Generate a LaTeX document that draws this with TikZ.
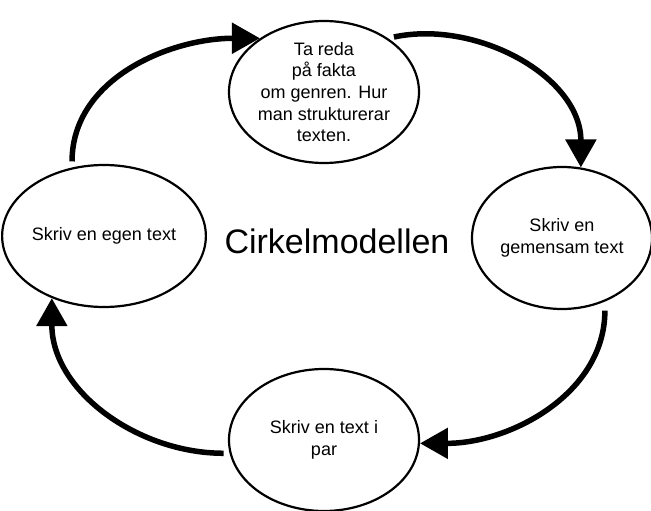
\documentclass[tikz,border=0pt]{standalone}
\usepackage{fontspec}
\setmainfont{Liberation Sans}
\usetikzlibrary{arrows.meta, shapes.geometric}

\begin{document}
\begin{tikzpicture}[x=1pt,y=1pt,->,>={Triangle[length=28pt,width=30pt]},shorten <=6pt,line width=5.5pt,
    steg/.style={ellipse,draw,line width=2.2pt,minimum width=190pt,minimum height=142pt,inner sep=0pt,align=center,font=\fontsize{18}{21.6}\selectfont}]
    \useasboundingbox (0,0) rectangle (651,-511);

    \node[steg] (T) at (324,-92)  {Ta reda\\på fakta\\om genren. Hur\\man strukturerar\\texten.};
    \node[steg,minimum width=180pt] (R) at (562,-238) {Skriv en\\gemensam text};
    \node[steg] (B) at (324,-440) {Skriv en text i\\par};
    \node[steg] (L) at (104,-236) {Skriv en egen text};
    \node[font=\fontsize{34}{40}\selectfont] (M) at (337,-241) {Cirkelmodellen};

    \path
    (L.115) edge[out=90,in=180] (T.140)
    (T.40)  edge[out=12,in=90] (R.75)
    (R.-56) edge[out=-90,in=0,shorten <=9pt] (B.-2)
    (B.188) edge[out=180,in=-90] (L.230);
\end{tikzpicture}
\end{document}
